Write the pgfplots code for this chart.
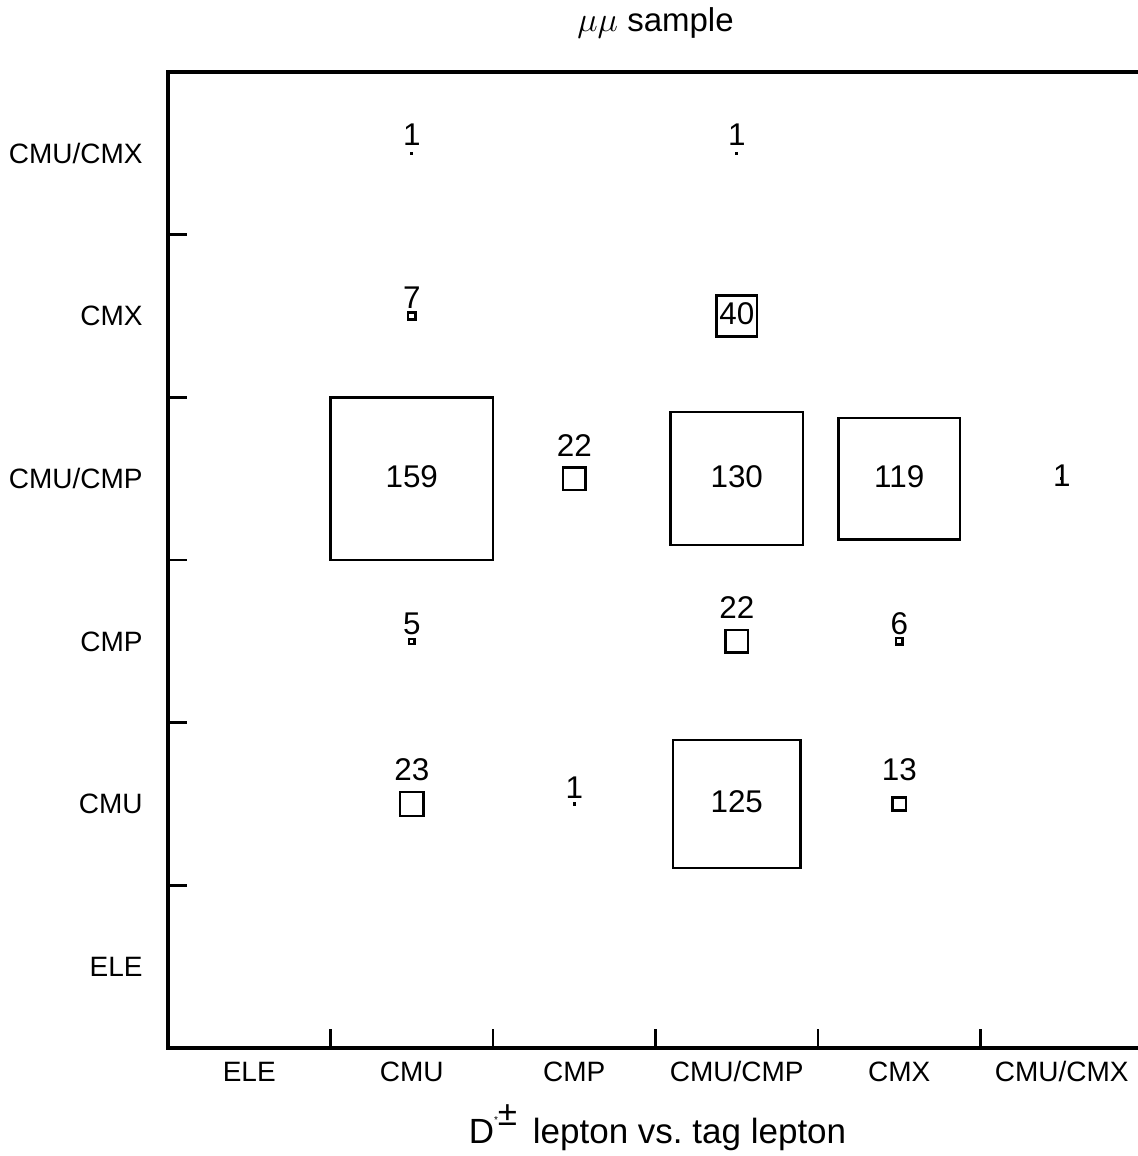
\documentclass[border=0pt]{standalone}
\usepackage{fontspec}
\setmainfont{Liberation Sans}
\usepackage{pgfplots}
\usepackage{pgfplotstable}
\pgfplotsset{compat=1.18}

% entries per cell: tag-lepton index x, D*-lepton index y, count v,
% and the vertical offset (pt) of the count label from the cell centre
\pgfplotstableread{
x y v dy
1 5 1 9.5
3 5 1 9.5
1 4 7 9.25
3 4 40 1
1 3 159 1
2 3 22 16.75
3 3 130 1
4 3 119 1
5 3 1 1.5
1 2 5 8.75
3 2 22 17
4 2 6 8.75
1 1 23 17
2 1 1 8
3 1 125 1
4 1 13 17
}\counts

\begin{document}
\begin{tikzpicture}
\begin{axis}[
  name=ax,
  scale only axis, width=487.5pt, height=488pt,
  xmin=-0.5, xmax=5.5, ymin=-0.5, ymax=5.5,
  xtick={0,...,5}, ytick={0,...,5},
  xticklabels={ELE,CMU,CMP,CMU/CMP,CMX,CMU/CMX},
  yticklabels={ELE,CMU,CMP,CMU/CMP,CMX,CMU/CMX},
  major tick length=0pt,
  minor xtick={0.5,1.5,2.5,3.5,4.5},
  minor ytick={0.5,1.5,2.5,3.5,4.5},
  minor tick length=9.5pt,
  tick align=inside,
  xtick pos=bottom, ytick pos=left,
  every tick/.style={black, line width=1.2pt},
  axis line style={line width=1.6pt},
  tick label style={font=\fontsize{14}{16}\selectfont, inner sep=0pt},
  xticklabel style={anchor=base, yshift=-16.5pt},
  yticklabel style={anchor=base east, xshift=-12.5pt, yshift=-5pt},
  every axis title shift=0pt,
  title={$\mu\mu$ sample},
  title style={at={(0.5,1)}, anchor=base, yshift=20pt, inner sep=0pt,
    font=\fontsize{16.5}{18}\selectfont},
  xlabel={D\raisebox{0.55em}{\tiny *}\raisebox{0.5em}{±}\hspace{0.45em}lepton vs.\ tag lepton},
  xlabel style={at={(axis description cs:0.5,0)}, anchor=base, yshift=-47.5pt,
    xshift=1pt, inner sep=0pt, font=\fontsize{17.5}{19}\selectfont},
]
% boxes: side proportional to the count (159 fills a whole 81.25pt cell)
\addplot[only marks, mark=none,
  visualization depends on={\thisrow{v}\as\val},
  nodes near coords={},
  every node near coord/.append style={draw=black, line width=1.2pt,
    anchor=center, inner sep=0pt, outer sep=0pt,
    minimum size=\val*81.25/159},
] table[x=x, y=y] {\counts};
% count printed in (or just above) each cell
\addplot[only marks, mark=none,
  point meta=explicit,
  visualization depends on={\thisrow{dy}\as\dy},
  nodes near coords={\pgfmathprintnumber[assume math mode=true, fixed, precision=0]{\pgfplotspointmeta}},
  every node near coord/.append style={black, anchor=center, inner sep=0pt,
    yshift=\dy, font=\fontsize{15.7}{18}\selectfont},
] table[x=x, y=y, meta=v] {\counts};
\end{axis}
\pgfresetboundingbox
\path[use as bounding box] ([shift={(-84pt,-54pt)}]ax.south west)
  rectangle ([shift={(-3pt,36pt)}]ax.north east);
\end{tikzpicture}
\end{document}
